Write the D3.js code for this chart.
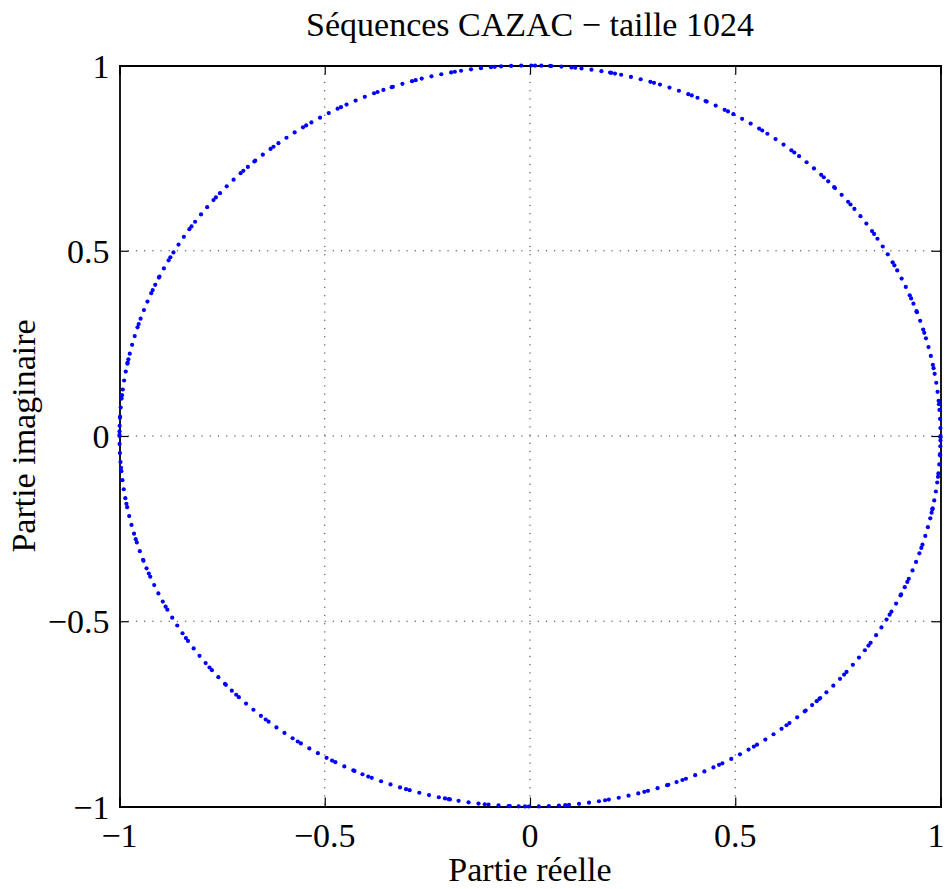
<!DOCTYPE html>
<head>
<style>

body {
margin: 0;
background: #fff;
}

svg {
font-family: "Liberation Serif", "Times New Roman", serif;
}

</style>

<script src="https://d3js.org/d3.v7.min.js"></script>
</head>

<body>

<svg id="cazacSvg" width="945" height="889"></svg>

<script>

// Phase indices r of the CAZAC (Zadoff-Chu) sequence of length 1024,
// each sample is exp(-j*pi*r/1024). Only distinct values are kept,
// repeated samples would land on the same dot anyway.
var phaseIndex = [
    0, 1024, 256,
    64, 576, 1088, 1600,
    16, 144, 272, 400, 528, 656, 784, 912, 1040, 1168, 1296, 1424, 1552, 1680, 1808, 1936,
    4, 36, 68, 100, 132, 164, 196, 228, 260, 292, 324, 356, 388, 420, 452, 484,
    516, 548, 580, 612, 644, 676, 708, 740, 772, 804, 836, 868, 900, 932, 964, 996,
    1028, 1060, 1092, 1124, 1156, 1188, 1220, 1252, 1284, 1316, 1348, 1380, 1412, 1444, 1476, 1508,
    1540, 1572, 1604, 1636, 1668, 1700, 1732, 1764, 1796, 1828, 1860, 1892, 1924, 1956, 1988, 2020,
    1, 9, 17, 25, 33, 41, 49, 57, 65, 73, 81, 89, 97, 105, 113, 121,
    129, 137, 145, 153, 161, 169, 177, 185, 193, 201, 209, 217, 225, 233, 241, 249,
    257, 265, 273, 281, 289, 297, 305, 313, 321, 329, 337, 345, 353, 361, 369, 377,
    385, 393, 401, 409, 417, 425, 433, 441, 449, 457, 465, 473, 481, 489, 497, 505,
    513, 521, 529, 537, 545, 553, 561, 569, 577, 585, 593, 601, 609, 617, 625, 633,
    641, 649, 657, 665, 673, 681, 689, 697, 705, 713, 721, 729, 737, 745, 753, 761,
    769, 777, 785, 793, 801, 809, 817, 825, 833, 841, 849, 857, 865, 873, 881, 889,
    897, 905, 913, 921, 929, 937, 945, 953, 961, 969, 977, 985, 993, 1001, 1009, 1017,
    1025, 1033, 1041, 1049, 1057, 1065, 1073, 1081, 1089, 1097, 1105, 1113, 1121, 1129, 1137, 1145,
    1153, 1161, 1169, 1177, 1185, 1193, 1201, 1209, 1217, 1225, 1233, 1241, 1249, 1257, 1265, 1273,
    1281, 1289, 1297, 1305, 1313, 1321, 1329, 1337, 1345, 1353, 1361, 1369, 1377, 1385, 1393, 1401,
    1409, 1417, 1425, 1433, 1441, 1449, 1457, 1465, 1473, 1481, 1489, 1497, 1505, 1513, 1521, 1529,
    1537, 1545, 1553, 1561, 1569, 1577, 1585, 1593, 1601, 1609, 1617, 1625, 1633, 1641, 1649, 1657,
    1665, 1673, 1681, 1689, 1697, 1705, 1713, 1721, 1729, 1737, 1745, 1753, 1761, 1769, 1777, 1785,
    1793, 1801, 1809, 1817, 1825, 1833, 1841, 1849, 1857, 1865, 1873, 1881, 1889, 1897, 1905, 1913,
    1921, 1929, 1937, 1945, 1953, 1961, 1969, 1977, 1985, 1993, 2001, 2009, 2017, 2025, 2033, 2041
];
var seqLength = 1024;

var xTicks = [-1, -0.5, 0, 0.5, 1];
var yTicks = [-1, -0.5, 0, 0.5, 1];
var xTickLabels = ["\u22121", "\u22120.5", "0", "0.5", "1"];
var yTickLabels = ["\u22121", "\u22120.5", "0", "0.5", "1"];

var titleText = "Séquences CAZAC \u2212 taille 1024";
var xLabelText = "Partie réelle";
var yLabelText = "Partie imaginaire";

var margin = {top: 65.5, right: 4.5, bottom: 82.5, left: 119.5};
var svgWidth = 945;
var svgHeight = 889;
var width = svgWidth - margin.left - margin.right;
var height = svgHeight - margin.top - margin.bottom;
var fontSize = 34;
var tickLen = 9;

var x = d3.scaleLinear()
    .domain([-1, 1])
    .range([0, width]);

var y = d3.scaleLinear()
    .domain([-1, 1])
    .range([height, 0]);

var svg = d3.select("#cazacSvg");

var g = svg.append("g")
    .attr("transform", "translate(" + margin.left + "," + margin.top + ")");

// dotted grid, only on the inner ticks
g.append("g")
    .selectAll("line")
    .data(xTicks.filter(function(d) { return d > -1 && d < 1; }))
    .enter().append("line")
    .attr("x1", function(d) { return x(d); })
    .attr("x2", function(d) { return x(d); })
    .attr("y1", 0)
    .attr("y2", height)
    .style("stroke", "#333")
    .style("stroke-width", 1)
    .style("stroke-dasharray", "1.2,7");

g.append("g")
    .selectAll("line")
    .data(yTicks.filter(function(d) { return d > -1 && d < 1; }))
    .enter().append("line")
    .attr("x1", 0)
    .attr("x2", width)
    .attr("y1", function(d) { return y(d); })
    .attr("y2", function(d) { return y(d); })
    .style("stroke", "#333")
    .style("stroke-width", 1)
    .style("stroke-dasharray", "1.2,7");

// matlab style axes: ticks inward on all four sides
var xAxisBottom = d3.axisBottom(x).tickValues(xTicks).tickSize(-tickLen).tickFormat("");
var xAxisTop = d3.axisTop(x).tickValues(xTicks).tickSize(-tickLen).tickFormat("");
var yAxisLeft = d3.axisLeft(y).tickValues(yTicks).tickSize(-tickLen).tickFormat("");
var yAxisRight = d3.axisRight(y).tickValues(yTicks).tickSize(-tickLen).tickFormat("");

g.append("g").attr("transform", "translate(0," + height + ")").call(xAxisBottom);
g.append("g").call(xAxisTop);
g.append("g").call(yAxisLeft);
g.append("g").attr("transform", "translate(" + width + ",0)").call(yAxisRight);

g.selectAll(".domain")
    .style("stroke", "#000")
    .style("stroke-width", 1.8);
g.selectAll(".tick line")
    .style("stroke", "#000")
    .style("stroke-width", 1.2);

// tick labels (the last one is pulled in so it stays inside the page)
g.append("g")
    .selectAll("text")
    .data(xTicks)
    .enter().append("text")
    .attr("x", function(d) { return d === 1 ? width + 4 : x(d); })
    .attr("y", height + 40)
    .attr("text-anchor", function(d) { return d === 1 ? "end" : "middle"; })
    .style("font-size", fontSize + "px")
    .text(function(d, i) { return xTickLabels[i]; });

g.append("g")
    .selectAll("text")
    .data(yTicks)
    .enter().append("text")
    .attr("x", -10)
    .attr("y", function(d) { return y(d) + 12; })
    .attr("text-anchor", "end")
    .style("font-size", fontSize + "px")
    .text(function(d, i) { return yTickLabels[i]; });

// the sequence samples
g.append("g")
    .selectAll("circle")
    .data(phaseIndex)
    .enter().append("circle")
    .attr("cx", function(r) { return x(Math.cos(-Math.PI * r / seqLength)); })
    .attr("cy", function(r) { return y(Math.sin(-Math.PI * r / seqLength)); })
    .attr("r", 2.1)
    .style("fill", "#0000ff");

// title and axis labels
svg.append("text")
    .attr("x", margin.left + width / 2)
    .attr("y", 36)
    .attr("text-anchor", "middle")
    .style("font-size", fontSize + "px")
    .text(titleText);

svg.append("text")
    .attr("x", margin.left + width / 2)
    .attr("y", 881)
    .attr("text-anchor", "middle")
    .style("font-size", fontSize + "px")
    .text(xLabelText);

svg.append("text")
    .attr("transform", "translate(35," + (margin.top + height / 2) + ") rotate(-90)")
    .attr("text-anchor", "middle")
    .style("font-size", fontSize + "px")
    .text(yLabelText);

</script>

</body>

</html>
